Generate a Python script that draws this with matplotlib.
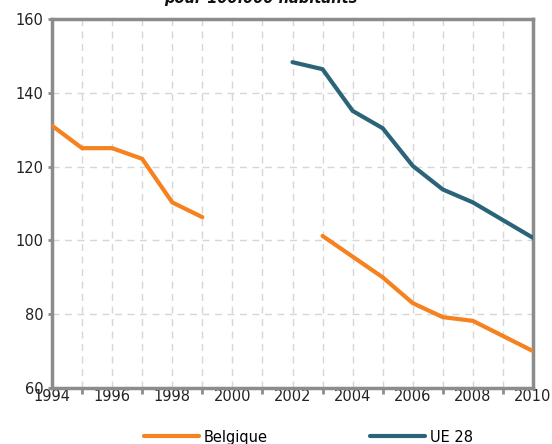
import matplotlib
matplotlib.use("Agg")
import matplotlib.pyplot as plt

# Taux pour 100.000 habitants
years_be_a = [1994, 1995, 1996, 1997, 1998, 1999]
belgique_a = [131.1, 125.0, 125.0, 122.1, 110.3, 106.3]
years_be_b = [2003, 2004, 2005, 2006, 2007, 2008, 2009, 2010]
belgique_b = [101.2, 95.6, 90.0, 83.0, 79.2, 78.2, 74.1, 70.0]
years_ue = [2002, 2003, 2004, 2005, 2006, 2007, 2008, 2009, 2010]
ue28 = [148.3, 146.4, 135.1, 130.4, 120.2, 113.8, 110.3, 105.5, 100.7]

x_labels = list(range(1994, 2011, 2))
x_marks = list(range(1995, 2010, 2))
y_ticks = [60, 80, 100, 120, 140, 160]

orange = "#F5821F"
blue = "#2B6379"
spine_grey = "#8C8C8C"
grid_grey = "#D6D6D6"

plt.rcParams["font.family"] = ["DejaVu Sans"]

fig = plt.figure(figsize=(5.52, 4.44), dpi=100)
ax = fig.add_axes([52 / 552, 1 - 388 / 444, (533 - 52) / 552, (388 - 19) / 444])

ax.set_xlim(1994, 2010)
ax.set_ylim(60, 160)

# dashed grid at every year and every 20 units
for yr in range(1995, 2010):
    ax.axvline(yr, color=grid_grey, lw=1.0, ls=(0, (5, 4)), zorder=1)
for v in y_ticks[1:-1]:
    ax.axhline(v, color=grid_grey, lw=1.0, ls=(0, (5, 4)), zorder=1)

line_kw = dict(lw=3.0, solid_capstyle="round", solid_joinstyle="miter", zorder=3)
l_be, = ax.plot(years_be_a, belgique_a, color=orange, **line_kw)
ax.plot(years_be_b, belgique_b, color=orange, **line_kw)
l_ue, = ax.plot(years_ue, ue28, color=blue, **line_kw)

for s in ["left", "right", "top", "bottom"]:
    ax.spines[s].set_color(spine_grey)
    ax.spines[s].set_linewidth(2.5)

# tick marks on odd years, labels on even years
ax.set_xticks(x_marks)
ax.set_xticklabels([])
ax.set_xticks(x_labels, minor=True)
ax.set_xticklabels([str(y) for y in x_labels], minor=True)
ax.tick_params(axis="x", which="major", direction="out", length=4, width=2,
               color=spine_grey)
ax.tick_params(axis="x", which="minor", length=0, labelsize=10.5, pad=1,
               labelcolor="#222222")
ax.set_yticks(y_ticks)
ax.tick_params(axis="y", direction="out", length=3, width=2, color=spine_grey,
               labelsize=10.5, pad=3, labelcolor="#222222")

fig.text(0.473, 1 - 2.5 / 444, "pour 100.000 habitants", ha="center", va="baseline",
         fontsize=10.5, fontweight="bold", fontstyle="italic", color="#111111")

fs = 10.5
hl = 55 / (fs * 100 / 72)
leg_kw = dict(loc="center left", frameon=False, fontsize=fs, handlelength=hl,
              handletextpad=0.35, borderpad=0, borderaxespad=0)
fig.legend([l_be], ["Belgique"], bbox_to_anchor=(144 / 552, 1 - 437 / 444), **leg_kw)
fig.legend([l_ue], ["UE 28"], bbox_to_anchor=(370 / 552, 1 - 437 / 444), **leg_kw)

fig.savefig("out.png", dpi=100)
